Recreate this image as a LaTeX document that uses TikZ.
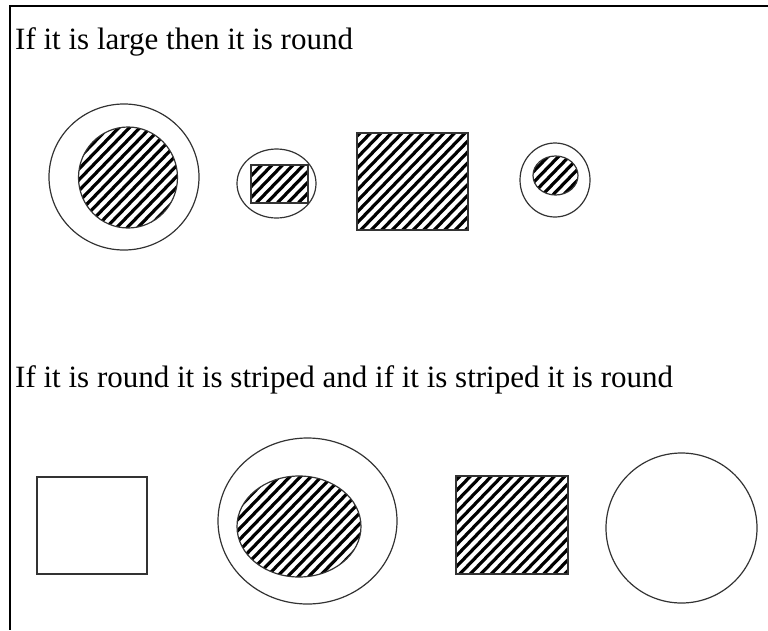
\documentclass[tikz,border=0pt]{standalone}
\usepackage{fontspec}
\setmainfont{Liberation Serif}
\usetikzlibrary{shapes.geometric}
\tikzset{
  outline/.style={draw=black!80, line width=1.2pt, inner sep=0pt, outer sep=0pt},
  oval/.style={outline, ellipse},
  box/.style={outline, rectangle},
  hatch/.style={path picture={
    \foreach \k in {-30,...,30}
      \draw[line width=3.2pt, black, shift={(path picture bounding box.center)}]
        (\k*10.5-150,150) -- ++(300,-310);
  }},
  label/.style={font=\fontsize{31}{36}\selectfont, inner sep=0pt, anchor=base west},
  frame/.style={line width=2pt, black}
}
\begin{document}
\begin{tikzpicture}[x=1pt, y=-1pt]
\useasboundingbox (0,0) rectangle (768,630);
% frame
\coordinate (tl) at (10,6);
\coordinate (tr) at (768,6);
\coordinate (bl) at (10,630);
\draw[frame] (tr) -- (tl) -- (bl);
% texts
\node[label] (t1) at (15,49) {If it is large then it is round};
\node[label] (t2) at (15,387) {If it is round it is striped and if it is striped it is round};
% top row
\node[oval, minimum width=150pt, minimum height=146pt] (a1) at (124,177) {};
\node[oval, hatch, minimum width=99pt, minimum height=101pt] (a2) at (128,177.5) {};
\node[oval, minimum width=79pt, minimum height=69pt] (b1) at (276.5,183.5) {};
\node[box, hatch, minimum width=57pt, minimum height=38pt] (b2) at (279.5,184) {};
\node[box, hatch, minimum width=111pt, minimum height=97pt] (c1) at (412.5,181.5) {};
\node[oval, minimum width=70pt, minimum height=74pt] (d1) at (555,180) {};
\node[oval, hatch, minimum width=45pt, minimum height=39pt] (d2) at (555.5,175.5) {};
% bottom row
\node[box, minimum width=110pt, minimum height=97pt] (e1) at (92,525.5) {};
\node[oval, minimum width=179pt, minimum height=166pt] (f1) at (307.5,521) {};
\node[oval, hatch, minimum width=124pt, minimum height=101pt] (f2) at (299,526.5) {};
\node[box, hatch, minimum width=112pt, minimum height=98pt] (g1) at (512,525) {};
\node[oval, minimum width=151pt, minimum height=150pt] (h1) at (681.5,528) {};
\end{tikzpicture}
\end{document}
